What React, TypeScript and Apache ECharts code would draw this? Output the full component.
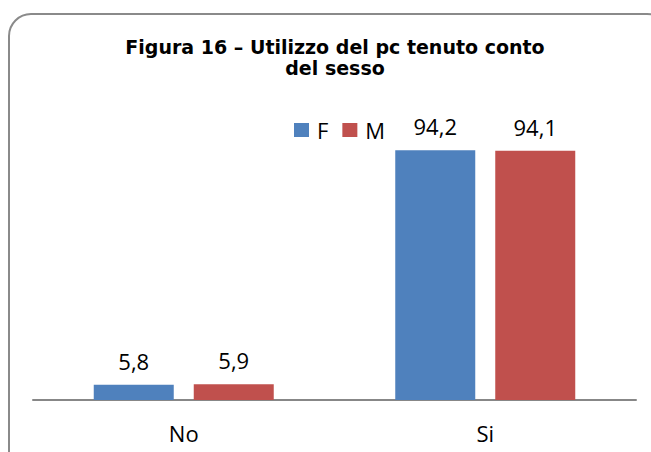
import React, { useEffect, useRef } from "react";
import * as echarts from "echarts";

const categories = ["No", "Si"];
const seriesF = [5.8, 94.2];
const seriesM = [5.9, 94.1];
const seriesNames = ["F", "M"];
const titleText = "Figura 16 – Utilizzo del pc tenuto conto\ndel sesso";

const fmt = (v: number) => v.toFixed(1).replace(".", ",");

export default function App() {
  const ref = useRef<HTMLDivElement>(null);
  useEffect(() => {
    if (!ref.current) return;
    const chart = echarts.init(ref.current, null, { renderer: "svg" });
    const labelStyle = {
      show: true,
      position: "top" as const,
      distance: 13,
      fontFamily: "Open Sans",
      fontSize: 22,
      color: "#000",
      formatter: (p: any) => fmt(p.value),
    };
    chart.setOption({
      animation: false,
      backgroundColor: "#fff",
      title: {
        text: titleText,
        left: 330,
        textAlign: "center",
        top: 31,
        textStyle: {
          fontFamily: "DejaVu Sans",
          fontWeight: "bold",
          fontSize: 19,
          lineHeight: 21,
          color: "#000",
        },
      },
      legend: {
        data: seriesNames,
        left: 294,
        top: 119,
        padding: 0,
        itemWidth: 15,
        itemHeight: 14,
        itemGap: 14,
        icon: "rect",
        textStyle: { fontFamily: "Open Sans", fontSize: 22, color: "#000", padding: [0, 0, 0, 3] },
      },
      grid: { left: 33, right: 15, top: 135, bottom: 52 },
      xAxis: {
        type: "category",
        data: categories,
        axisLine: { lineStyle: { color: "#878787", width: 2 } },
        axisTick: { show: false },
        axisLabel: { fontFamily: "Open Sans", fontSize: 22, color: "#000", margin: 22 },
      },
      yAxis: {
        type: "value",
        min: 0,
        max: 100,
        show: false,
        splitLine: { show: false },
      },
      series: [
        {
          name: "F",
          type: "bar",
          data: seriesF,
          barWidth: 80,
          barGap: "25%",
          itemStyle: { color: "#4F81BD" },
          label: labelStyle,
        },
        {
          name: "M",
          type: "bar",
          data: seriesM,
          barWidth: 80,
          itemStyle: { color: "#C0504D" },
          label: labelStyle,
        },
      ],
      graphic: [
        {
          type: "rect",
          shape: { x: 9, y: 14, width: 660, height: 460, r: 22 },
          style: { fill: "none", stroke: "#8a8a8a", lineWidth: 2 },
          silent: true,
        },
      ],
    });
    return () => chart.dispose();
  }, []);
  return <div ref={ref} style={{ width: 651, height: 452, position: "absolute", left: 0, top: 0 }} />;
}
